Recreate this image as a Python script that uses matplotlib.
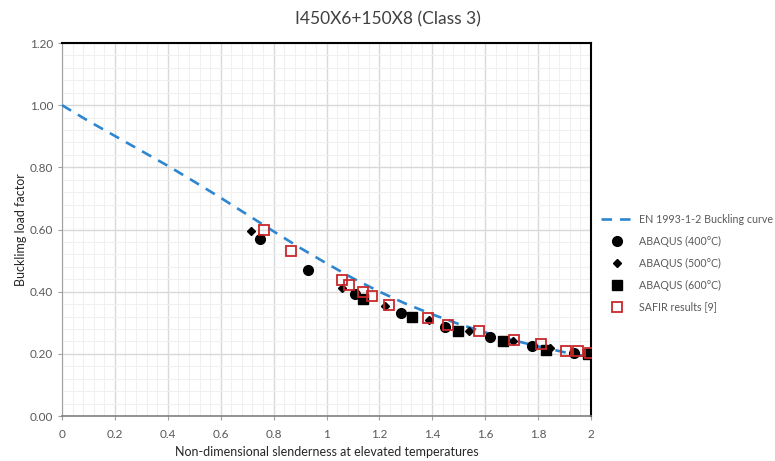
import matplotlib.pyplot as plt
from matplotlib.ticker import MultipleLocator, FormatStrFormatter

plt.rcParams['font.family'] = ['Lato', 'DejaVu Sans']

# EN 1993-1-2 buckling curve
curve_x = [0.0, 0.1, 0.2, 0.3, 0.4, 0.5, 0.6, 0.7, 0.8, 0.9, 1.0,
           1.1, 1.2, 1.3, 1.4, 1.5, 1.6, 1.7, 1.8, 1.9, 2.0]
curve_y = [1.000, 0.949, 0.901, 0.853, 0.805, 0.754, 0.702, 0.648, 0.594, 0.541, 0.491,
           0.443, 0.400, 0.361, 0.327, 0.296, 0.269, 0.245, 0.224, 0.205, 0.189]

# ABAQUS 400C
a400_x = [0.749, 0.930, 1.108, 1.280, 1.448, 1.618, 1.777, 1.936]
a400_y = [0.570, 0.470, 0.394, 0.330, 0.287, 0.253, 0.226, 0.204]
# ABAQUS 500C
a500_x = [0.715, 1.060, 1.221, 1.388, 1.539, 1.705, 1.845]
a500_y = [0.594, 0.413, 0.353, 0.309, 0.272, 0.241, 0.220]
# ABAQUS 600C
a600_x = [1.138, 1.323, 1.497, 1.667, 1.830, 1.990]
a600_y = [0.378, 0.318, 0.273, 0.240, 0.211, 0.198]
# SAFIR results [9]
safir_x = [0.764, 0.866, 1.059, 1.085, 1.138, 1.172, 1.236, 1.384, 1.459,
           1.577, 1.709, 1.811, 1.905, 1.951, 1.996]
safir_y = [0.597, 0.530, 0.438, 0.423, 0.399, 0.386, 0.358, 0.315, 0.293,
           0.273, 0.243, 0.231, 0.210, 0.210, 0.204]

fig = plt.figure(figsize=(7.75, 4.61), dpi=100)
ax = fig.add_axes([0.080, 0.0976, 0.6826, 0.8091])

ax.plot(curve_x, curve_y, color='#2E86CF', lw=1.9, dashes=(4, 3),
        label='EN 1993-1-2 Buckling curve', zorder=3)
ax.plot(a400_x, a400_y, 'o', color='black', ms=7, ls='none', label='ABAQUS (400\u00b0C)', zorder=4)
ax.plot(a500_x, a500_y, 'D', color='black', ms=4.5, ls='none', label='ABAQUS (500\u00b0C)', zorder=4)
ax.plot(a600_x, a600_y, 's', color='black', ms=6.5, ls='none', label='ABAQUS (600\u00b0C)', zorder=4)
ax.plot(safir_x, safir_y, 's', mfc='none', mec='#C8282A', mew=1.3, ms=7.5, ls='none',
        label='SAFIR results [9]', zorder=5)

ax.set_xlim(0, 2)
ax.set_ylim(0, 1.2)
ax.xaxis.set_major_locator(MultipleLocator(0.2))
ax.xaxis.set_minor_locator(MultipleLocator(0.04))
ax.yaxis.set_major_locator(MultipleLocator(0.2))
ax.yaxis.set_minor_locator(MultipleLocator(0.04))
ax.yaxis.set_major_formatter(FormatStrFormatter('%.2f'))
ax.set_xticks([0, 0.2, 0.4, 0.6, 0.8, 1, 1.2, 1.4, 1.6, 1.8, 2])
ax.set_xticklabels(['0', '0.2', '0.4', '0.6', '0.8', '1', '1.2', '1.4', '1.6', '1.8', '2'])
ax.grid(which='major', color='#D9D9D9', lw=1.0)
ax.grid(which='minor', color='#F0F0F0', lw=0.8)
ax.set_axisbelow(True)

ax.tick_params(which='major', length=3, color='#A0A0A0', labelsize=8.5, labelcolor='#595959')
ax.tick_params(which='minor', length=0)
ax.tick_params(axis='x', pad=6)

for s in ['top', 'right']:
    ax.spines[s].set_color('black')
    ax.spines[s].set_linewidth(1.5)
ax.spines['left'].set_color('#A0A0A0')
ax.spines['bottom'].set_color('#808080')
ax.spines['bottom'].set_linewidth(1.2)

ax.set_xlabel('Non-dimensional slenderness at elevated temperatures', fontsize=9, color='#262626', labelpad=5)
ax.set_ylabel('Bucklimg load factor', fontsize=9, color='#262626', labelpad=2)
fig.suptitle('I450X6+150X8 (Class 3)', fontsize=12.5, color='#404040', x=0.5, y=0.975)

leg = ax.legend(loc='center left', bbox_to_anchor=(1.0, 0.41), frameon=False,
                fontsize=7.7, labelspacing=1.02, handlelength=3.0, handletextpad=0.6)
for t in leg.get_texts():
    t.set_color('#595959')

fig.savefig('out.png', dpi=100)
